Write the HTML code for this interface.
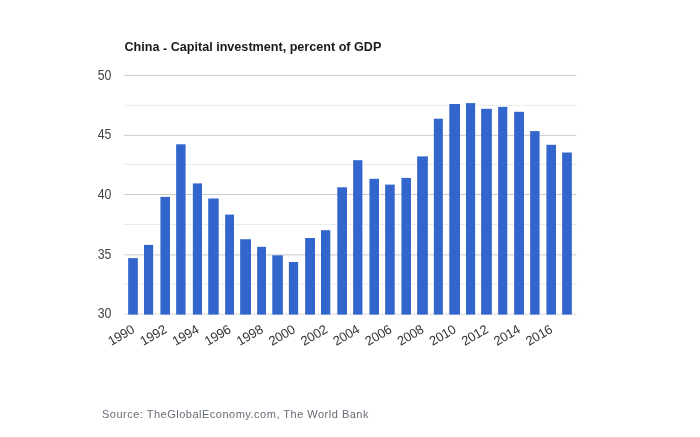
<!DOCTYPE html>
<html><head><meta charset="utf-8"><title>China - Capital investment, percent of GDP</title>
<style>html,body{margin:0;padding:0;background:#fff}svg{display:block;will-change:transform}text{font-family:"Liberation Sans",sans-serif}</style></head><body>
<svg width="700" height="437" viewBox="0 0 700 437">
<rect width="700" height="437" fill="#ffffff"/>
<text x="124.5" y="51.4" font-size="12.6" font-weight="bold" fill="#1a1a1a">China <tspan dy="1.6">-</tspan><tspan dy="-1.6"> Capital investment, percent of GDP</tspan></text>
<rect x="124" y="283.55" width="452.5" height="1" fill="#ebebeb"/>
<rect x="124" y="254.40" width="452.5" height="1" fill="#cccccc"/>
<rect x="124" y="224.00" width="452.5" height="1" fill="#ebebeb"/>
<rect x="124" y="194.00" width="452.5" height="1" fill="#cccccc"/>
<rect x="124" y="164.00" width="452.5" height="1" fill="#ebebeb"/>
<rect x="124" y="134.85" width="452.5" height="1" fill="#cccccc"/>
<rect x="124" y="104.85" width="452.5" height="1" fill="#ebebeb"/>
<rect x="124" y="74.90" width="452.5" height="1" fill="#cccccc"/>
<rect x="124" y="313.60" width="452.5" height="1" fill="#dcdcdc"/>
<rect x="128.14" y="258.10" width="9.72" height="56.50" fill="#3366cc"/>
<rect x="144.00" y="244.90" width="9.14" height="69.70" fill="#3366cc"/>
<rect x="160.43" y="196.90" width="9.57" height="117.70" fill="#3366cc"/>
<rect x="176.14" y="144.30" width="9.43" height="170.30" fill="#3366cc"/>
<rect x="192.86" y="183.40" width="9.14" height="131.20" fill="#3366cc"/>
<rect x="208.20" y="198.50" width="10.51" height="116.10" fill="#3366cc"/>
<rect x="225.14" y="214.60" width="8.86" height="100.00" fill="#3366cc"/>
<rect x="240.14" y="239.20" width="10.86" height="75.40" fill="#3366cc"/>
<rect x="257.14" y="246.80" width="8.86" height="67.80" fill="#3366cc"/>
<rect x="272.29" y="255.30" width="10.57" height="59.30" fill="#3366cc"/>
<rect x="288.90" y="262.00" width="9.24" height="52.60" fill="#3366cc"/>
<rect x="305.14" y="238.00" width="9.86" height="76.60" fill="#3366cc"/>
<rect x="321.00" y="230.20" width="9.29" height="84.40" fill="#3366cc"/>
<rect x="337.29" y="187.30" width="9.71" height="127.30" fill="#3366cc"/>
<rect x="353.14" y="160.20" width="9.29" height="154.40" fill="#3366cc"/>
<rect x="369.43" y="178.80" width="9.57" height="135.80" fill="#3366cc"/>
<rect x="385.14" y="184.60" width="9.57" height="130.00" fill="#3366cc"/>
<rect x="401.43" y="177.90" width="9.57" height="136.70" fill="#3366cc"/>
<rect x="417.14" y="156.40" width="10.72" height="158.20" fill="#3366cc"/>
<rect x="433.86" y="118.70" width="9.0" height="195.90" fill="#3366cc"/>
<rect x="449.29" y="104.00" width="10.71" height="210.60" fill="#3366cc"/>
<rect x="466.00" y="103.10" width="9.14" height="211.50" fill="#3366cc"/>
<rect x="481.14" y="108.80" width="10.72" height="205.80" fill="#3366cc"/>
<rect x="498.14" y="106.90" width="9.15" height="207.70" fill="#3366cc"/>
<rect x="514.14" y="111.80" width="9.86" height="202.80" fill="#3366cc"/>
<rect x="530.14" y="131.10" width="9.43" height="183.50" fill="#3366cc"/>
<rect x="546.43" y="144.80" width="9.57" height="169.80" fill="#3366cc"/>
<rect x="562.14" y="152.50" width="9.72" height="162.10" fill="#3366cc"/>
<text transform="translate(111.4 318.00) scale(0.88 1)" font-size="14" text-anchor="end" fill="#444444">30</text>
<text transform="translate(111.4 258.50) scale(0.88 1)" font-size="14" text-anchor="end" fill="#444444">35</text>
<text transform="translate(111.4 199.00) scale(0.88 1)" font-size="14" text-anchor="end" fill="#444444">40</text>
<text transform="translate(111.4 139.45) scale(0.88 1)" font-size="14" text-anchor="end" fill="#444444">45</text>
<text transform="translate(111.4 79.90) scale(0.88 1)" font-size="14" text-anchor="end" fill="#444444">50</text>
<text font-size="13" letter-spacing="-0.25" text-anchor="end" fill="#333333" transform="translate(135.40 332.1) rotate(-30)">1990</text>
<text font-size="13" letter-spacing="-0.25" text-anchor="end" fill="#333333" transform="translate(167.54 332.1) rotate(-30)">1992</text>
<text font-size="13" letter-spacing="-0.25" text-anchor="end" fill="#333333" transform="translate(199.68 332.1) rotate(-30)">1994</text>
<text font-size="13" letter-spacing="-0.25" text-anchor="end" fill="#333333" transform="translate(231.82 332.1) rotate(-30)">1996</text>
<text font-size="13" letter-spacing="-0.25" text-anchor="end" fill="#333333" transform="translate(263.96 332.1) rotate(-30)">1998</text>
<text font-size="13" letter-spacing="-0.25" text-anchor="end" fill="#333333" transform="translate(296.10 332.1) rotate(-30)">2000</text>
<text font-size="13" letter-spacing="-0.25" text-anchor="end" fill="#333333" transform="translate(328.24 332.1) rotate(-30)">2002</text>
<text font-size="13" letter-spacing="-0.25" text-anchor="end" fill="#333333" transform="translate(360.38 332.1) rotate(-30)">2004</text>
<text font-size="13" letter-spacing="-0.25" text-anchor="end" fill="#333333" transform="translate(392.52 332.1) rotate(-30)">2006</text>
<text font-size="13" letter-spacing="-0.25" text-anchor="end" fill="#333333" transform="translate(424.66 332.1) rotate(-30)">2008</text>
<text font-size="13" letter-spacing="-0.25" text-anchor="end" fill="#333333" transform="translate(456.80 332.1) rotate(-30)">2010</text>
<text font-size="13" letter-spacing="-0.25" text-anchor="end" fill="#333333" transform="translate(488.94 332.1) rotate(-30)">2012</text>
<text font-size="13" letter-spacing="-0.25" text-anchor="end" fill="#333333" transform="translate(521.08 332.1) rotate(-30)">2014</text>
<text font-size="13" letter-spacing="-0.25" text-anchor="end" fill="#333333" transform="translate(553.22 332.1) rotate(-30)">2016</text>
<text x="102" y="417.7" font-size="11" letter-spacing="0.5" fill="#666d77">Source: TheGlobalEconomy.com, The World Bank</text>
</svg></body></html>
